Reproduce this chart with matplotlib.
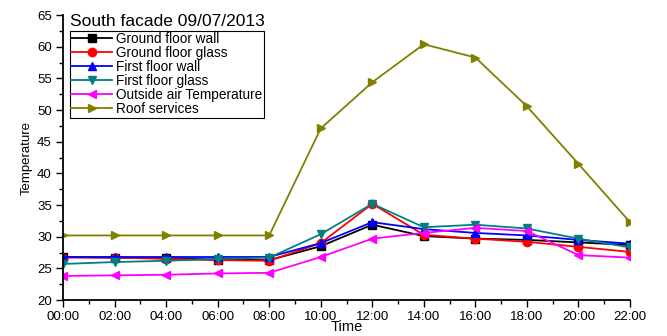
import matplotlib
matplotlib.use("Agg")
import matplotlib.pyplot as plt
from matplotlib.ticker import MultipleLocator

plt.rcParams["font.family"] = ["Liberation Sans", "DejaVu Sans"]

times = ["00:00", "02:00", "04:00", "06:00", "08:00", "10:00",
         "12:00", "14:00", "16:00", "18:00", "20:00", "22:00"]
hours = list(range(0, 24, 2))

ground_wall = [26.8, 26.7, 26.6, 26.4, 26.3, 28.5, 31.9, 30.1, 29.7, 29.5, 29.1, 28.7]
ground_glass = [26.7, 26.7, 26.5, 26.3, 26.2, 29.0, 35.2, 30.3, 29.7, 29.2, 28.4, 27.6]
first_wall = [26.8, 26.8, 26.8, 26.8, 26.8, 29.0, 32.3, 31.2, 30.6, 30.2, 29.5, 28.9]
first_glass = [25.7, 26.0, 26.2, 26.5, 26.7, 30.4, 35.2, 31.5, 31.9, 31.3, 29.7, 28.3]
outside_air = [23.8, 23.9, 24.0, 24.2, 24.3, 26.8, 29.7, 30.6, 31.4, 30.9, 27.1, 26.7]
roof = [30.2, 30.2, 30.2, 30.2, 30.2, 47.1, 54.4, 60.4, 58.3, 50.6, 41.5, 32.3]

series = [
    ("Ground floor wall", ground_wall, "black", "s"),
    ("Ground floor glass", ground_glass, "red", "o"),
    ("First floor wall", first_wall, "blue", "^"),
    ("First floor glass", first_glass, "#008080", "v"),
    ("Outside air Temperature", outside_air, "magenta", "<"),
    ("Roof services", roof, "#808000", ">"),
]

fig = plt.figure(figsize=(6.67, 3.36), dpi=100)
ax = fig.add_axes([0.0945, 0.107, 0.85, 0.848])

for name, vals, col, mk in series:
    ax.plot(hours, vals, color=col, marker=mk, markersize=6, linewidth=1.3, label=name)

ax.set_xlim(0, 22)
ax.set_ylim(20, 65)
ax.set_xticks(hours)
ax.set_xticklabels(times)
ax.xaxis.set_minor_locator(MultipleLocator(1))
ax.yaxis.set_major_locator(MultipleLocator(5))
ax.yaxis.set_minor_locator(MultipleLocator(2.5))
ax.tick_params(which="major", direction="out", length=5, width=1, labelsize=9.5, pad=3)
ax.tick_params(which="minor", direction="out", length=3, width=1)
for s in ["top", "right"]:
    ax.spines[s].set_visible(False)
for s in ["left", "bottom"]:
    ax.spines[s].set_linewidth(1.3)

ax.set_xlabel("Time", fontsize=10.5, labelpad=-2)
ax.set_ylabel("Temperature", fontsize=9.5, labelpad=3)

ax.text(0.013, 0.953, "South facade 09/07/2013", transform=ax.transAxes,
        fontsize=12.5, va="bottom", ha="left")
leg = ax.legend(loc="upper left", bbox_to_anchor=(0.012, 0.945), fontsize=9.8,
                frameon=True, fancybox=False, edgecolor="black", framealpha=1,
                handlelength=3.0, handletextpad=0.3, borderpad=0.1,
                labelspacing=0.0, borderaxespad=0)
leg.get_frame().set_linewidth(0.8)

fig.savefig("out.png", dpi=100)
